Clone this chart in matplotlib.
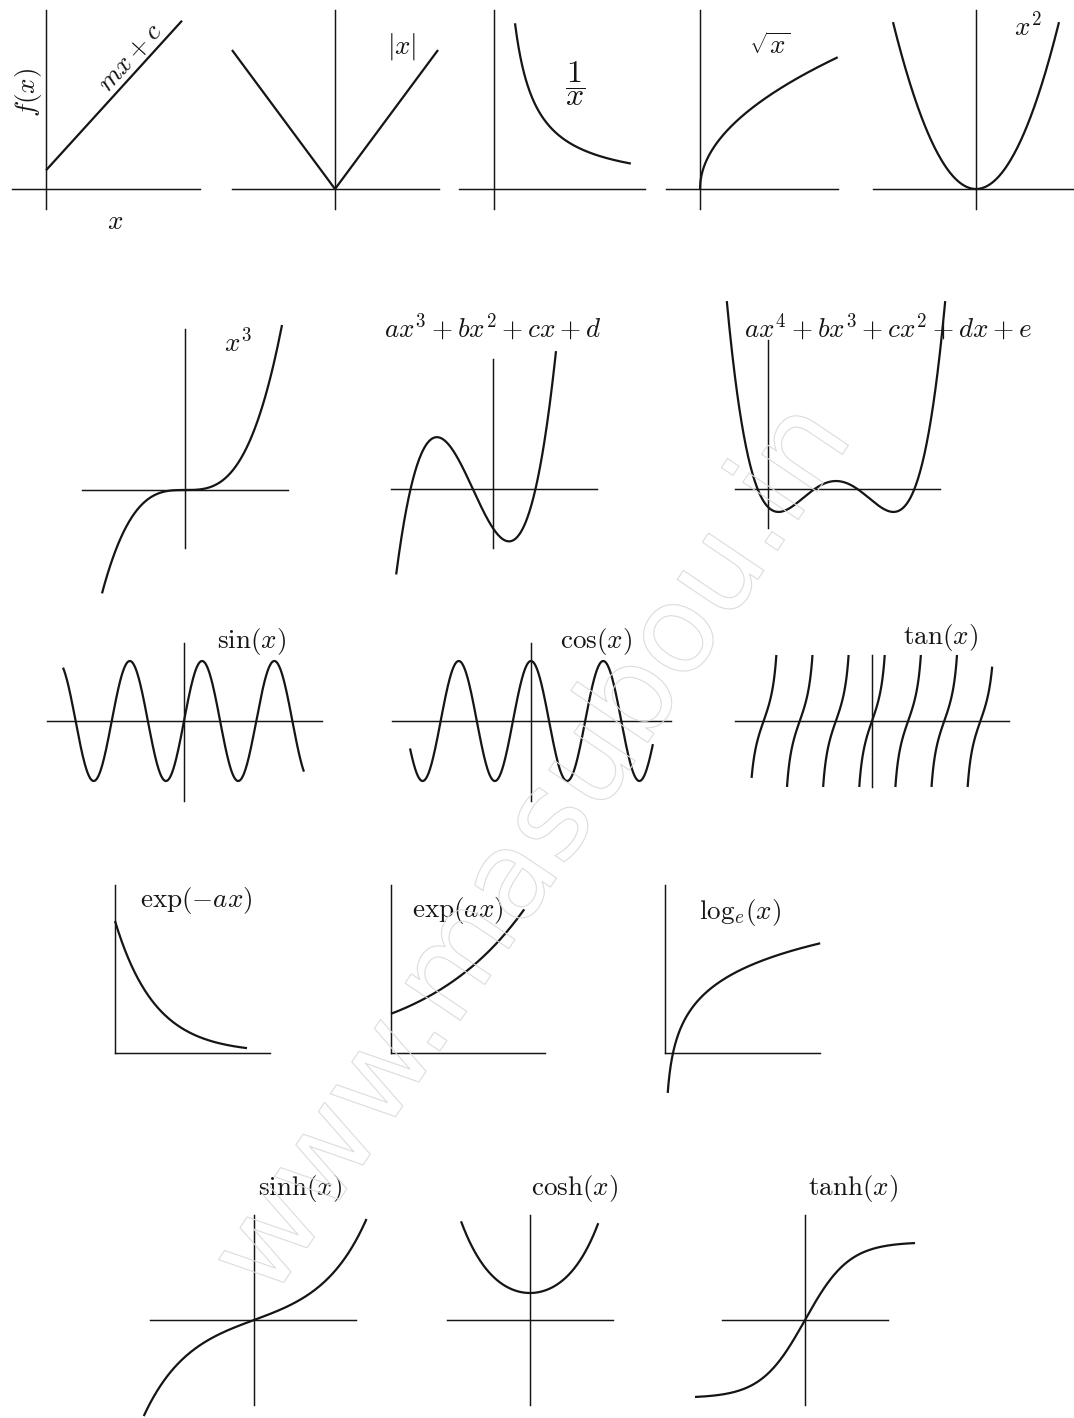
import matplotlib
matplotlib.use('Agg')
import matplotlib.pyplot as plt
import matplotlib.patheffects as pe
import numpy as np

plt.rcParams['mathtext.fontset'] = 'cm'

# ---- function parameters read off the sketches ----
# row 1
line_m, line_c = 1.1, 0.55
line_x = [0.0, 4.0]
abs_x = [-1.0, 0.0, 1.0]
recip_x = [0.356, 2.32]
sqrt_x = [0.0, 1.093]
square_x = [-2.01, 2.01]
# row 2
cube_x = [-1.66, 1.94]
cubic_roots = [-2.29, -0.56, 1.18]
cubic_a = 0.72
cubic_x = [-2.69, 1.75]
quartic_roots = [-0.26, 1.165, 2.235, 3.66]
quartic_a = 0.1815
quartic_x = [-1.03, 4.43]
# row 3
sin_x = [-10.52, 10.43]
cos_x = [-10.52, 10.6]
tan_x = [-10.47, 10.45]
tan_clip = 2.0
# row 4
expm_A, expm_a, expm_x = 3.3, 1.0, [0.0, 3.3]
expp_A, expp_a, expp_x = 0.98, 0.39, [0.0, 3.33]
log_x = [0.34, 19.4]
# row 5
sinh_x = [-2.45, 2.5]
cosh_x = [-1.97, 1.95]
tanh_x = [-2.5, 2.5]

# text, x px, y px, rotation, size
labels = [
    (r'$mx+c$', 130, 57, 48, 19.5),
    (r'$f(x)$', 29, 92, 90, 19.5),
    (r'$x$', 115, 222, 0, 19.5),
    (r'$|x|$', 402, 47, 0, 19.5),
    (r'$\dfrac{1}{x}$', 575, 84, 0, 23),
    (r'$\sqrt{x}$', 770, 47, 0, 19.5),
    (r'$x^2$', 1028, 27, 0, 19.5),
    (r'$x^3$', 238, 343, 0, 19.5),
    (r'$ax^3+bx^2+cx+d$', 493, 327, 0, 19.5),
    (r'$ax^4+bx^3+cx^2+dx+e$', 888, 327, 0, 19.5),
    (r'$\sin(x)$', 252, 641, 0, 19.5),
    (r'$\cos(x)$', 596, 641, 0, 19.5),
    (r'$\tan(x)$', 940, 637, 0, 19.5),
    (r'$\exp(-ax)$', 196, 901, 0, 19.5),
    (r'$\exp(ax)$', 458, 910, 0, 19.5),
    (r'$\mathrm{log}_e(x)$', 740, 913, 0, 19.5),
    (r'$\sinh(x)$', 300, 1188, 0, 19.5),
    (r'$\cosh(x)$', 575, 1188, 0, 19.5),
    (r'$\tanh(x)$', 853, 1188, 0, 19.5),
]

W, H = 1074, 1418
INK = '#151515'
CURVE_LW = 1.6
AXIS_LW = 1.05

fig = plt.figure(figsize=(W / 100, H / 100), dpi=100)
fig.patch.set_facecolor('white')


def panel(box, origin, sx, sy, vaxis=True):
    # box = (left, top, right, bottom) in image pixels, origin in pixels,
    # sx / sy = pixels per data unit
    l, t, r, b = box
    ox, oy = origin
    ax = fig.add_axes([l / W, 1 - b / H, (r - l) / W, (b - t) / H])
    ax.set_xlim((l - ox) / sx, (r - ox) / sx)
    ax.set_ylim((oy - b) / sy, (oy - t) / sy)
    ax.axis('off')
    ax.axhline(0, color=INK, lw=AXIS_LW, clip_on=False)
    if vaxis:
        ax.axvline(0, color=INK, lw=AXIS_LW, clip_on=False)
    return ax


def curve(ax, x, y):
    ax.plot(x, y, color=INK, lw=CURVE_LW, clip_on=False, solid_capstyle='butt')


# row 1
ax = panel((12, 10, 200, 209), (46, 189), 34, 34)
x = np.linspace(*line_x, 50)
curve(ax, x, line_m * x + line_c)

ax = panel((232, 10, 439, 209), (335, 189), 103, 139)
curve(ax, abs_x, np.abs(abs_x))

ax = panel((459, 10, 645, 209), (494, 189), 59, 59)
x = np.linspace(*recip_x, 200)
curve(ax, x, 1 / x)

ax = panel((666, 10, 838, 209), (700, 189), 126, 126)
x = np.linspace(*sqrt_x, 300)
curve(ax, x, np.sqrt(x))

ax = panel((873, 10, 1074, 209), (976, 189), 41.3, 41.3)
x = np.linspace(*square_x, 200)
curve(ax, x, x ** 2)

# row 2
ax = panel((82, 329, 288, 548), (185, 490), 50, 22.6)
x = np.linspace(*cube_x, 200)
curve(ax, x, x ** 3)

ax = panel((391, 359, 597, 548), (493, 489), 36, 36)
x = np.linspace(*cubic_x, 300)
curve(ax, x, cubic_a * np.prod([x - r for r in cubic_roots], axis=0))

ax = panel((735, 340, 940, 528), (768, 489), 40, 40)
x = np.linspace(*quartic_x, 400)
curve(ax, x, quartic_a * np.prod([x - r for r in quartic_roots], axis=0))

# row 3
ax = panel((47, 643, 322, 801), (184, 721), 11.5, 60)
x = np.linspace(*sin_x, 600)
curve(ax, x, np.sin(x))

ax = panel((392, 643, 671, 801), (531, 721), 11.5, 60)
x = np.linspace(*cos_x, 600)
curve(ax, x, np.cos(x))

ax = panel((735, 655, 1009, 787), (872, 721), 11.5, 33)
half = np.arctan(tan_clip)
for k in range(-4, 5):
    lo = max(k * np.pi - half, tan_x[0])
    hi = min(k * np.pi + half, tan_x[1])
    if hi > lo:
        x = np.linspace(lo, hi, 120)
        curve(ax, x, np.tan(x))

# row 4
ax = panel((115, 885, 270, 1053), (115, 1053), 40, 40)
x = np.linspace(*expm_x, 200)
curve(ax, x, expm_A * np.exp(-expm_a * x))

ax = panel((391, 885, 545, 1053), (391, 1053), 40, 40)
x = np.linspace(*expp_x, 200)
curve(ax, x, expp_A * np.exp(expp_a * x))

ax = panel((665, 885, 820, 1053), (665, 1053), 8, 37)
x = np.linspace(*log_x, 400)
curve(ax, x, np.log(x))

# row 5
ax = panel((150, 1215, 356, 1405), (254, 1320), 45, 16.7)
x = np.linspace(*sinh_x, 200)
curve(ax, x, np.sinh(x))

ax = panel((447, 1215, 613, 1405), (530, 1320), 35, 27)
x = np.linspace(*cosh_x, 200)
curve(ax, x, np.cosh(x))

ax = panel((722, 1215, 888, 1405), (805, 1320), 44, 78)
x = np.linspace(*tanh_x, 200)
curve(ax, x, np.tanh(x))

for s, px, py, rot, size in labels:
    fig.text(px / W, 1 - py / H, s, ha='center', va='center', fontsize=size,
             rotation=rot, rotation_mode='anchor', color=INK)

# faint outlined watermark across the page
wm = fig.text(535 / W, 1 - 850 / H, 'www.masubou.in', ha='center', va='center',
              fontsize=88, rotation=56, rotation_mode='anchor',
              family='DejaVu Sans', color='none', zorder=10)
wm.set_path_effects([pe.Stroke(linewidth=0.8, foreground='#dcdcdc')])

fig.savefig('out.png', dpi=100, facecolor='white')
